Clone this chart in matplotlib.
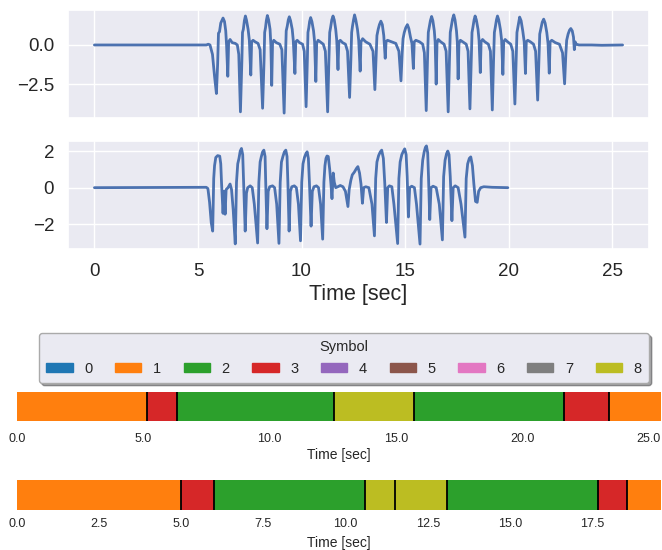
import matplotlib
matplotlib.use("Agg")
import matplotlib.pyplot as plt
import matplotlib.patches as mpatches
import numpy as np
import seaborn as sns

# signal 1 vertices (time [sec], value)
sig1_t = [0.00, 5.40, 5.50, 5.58, 5.70, 5.80,
          5.89, 5.95, 5.99, 6.04, 6.10, 6.21, 6.28, 6.34, 6.38, 6.44, 6.48, 6.55, 6.65, 6.80, 6.90, 6.97,
          7.05, 7.12, 7.15, 7.19, 7.24, 7.29, 7.34, 7.42, 7.48, 7.55, 7.59, 7.66, 7.76, 7.90, 8.00,
          8.12, 8.19, 8.22, 8.26, 8.30, 8.35, 8.41, 8.48, 8.52, 8.56, 8.60, 8.66, 8.78, 8.95, 9.05,
          9.16, 9.22, 9.26, 9.31, 9.36, 9.41, 9.47, 9.55, 9.60, 9.68, 9.72, 9.79, 9.90, 10.05, 10.13,
          10.22, 10.28, 10.31, 10.35, 10.39, 10.44, 10.50, 10.58, 10.63, 10.69, 10.73, 10.80, 10.90, 11.05, 11.15,
          11.26, 11.32, 11.36, 11.40, 11.46, 11.52, 11.58, 11.65, 11.70, 11.76, 11.80, 11.87, 11.98, 12.12, 12.22,
          12.32, 12.38, 12.42, 12.46, 12.51, 12.56, 12.62, 12.70, 12.76, 12.83, 12.87, 12.95, 13.10, 13.30, 13.45,
          13.54, 13.60, 13.64, 13.70, 13.76, 13.83, 13.90, 13.97, 14.04, 14.08, 14.15, 14.35, 14.55, 14.70,
          14.80, 14.86, 14.90, 14.96, 15.03, 15.11, 15.18, 15.26, 15.33, 15.40, 15.44, 15.52, 15.70, 15.85, 15.93,
          16.02, 16.08, 16.12, 16.16, 16.22, 16.28, 16.34, 16.41, 16.45, 16.50, 16.54, 16.60, 16.72, 16.88, 16.98,
          17.08, 17.14, 17.18, 17.23, 17.29, 17.35, 17.41, 17.48, 17.52, 17.56, 17.60, 17.67, 17.78, 17.95, 18.04,
          18.13, 18.19, 18.23, 18.27, 18.33, 18.38, 18.44, 18.52, 18.57, 18.63, 18.67, 18.74, 18.85, 19.02, 19.12,
          19.21, 19.27, 19.31, 19.35, 19.41, 19.46, 19.52, 19.60, 19.66, 19.72, 19.76, 19.83, 19.95, 20.10, 20.20,
          20.30, 20.36, 20.40, 20.44, 20.49, 20.53, 20.60, 20.68, 20.75, 20.81, 20.85, 20.92, 21.05, 21.20, 21.30,
          21.40, 21.46, 21.50, 21.55, 21.62, 21.69, 21.76, 21.84, 21.90, 21.96, 22.00, 22.08, 22.25, 22.45, 22.60,
          22.70, 22.76, 22.80, 22.87, 22.94, 23.00, 23.07, 23.13, 23.17, 23.21, 23.26, 23.40, 24.00, 24.50, 25.50]
sig1_v = [0.00, 0.00, 0.05, 0.00, -0.60, -2.00,
          -3.10, -1.20, 0.75, 0.85, 1.40, 1.72, 1.50, 0.90, 0.00, -2.00, 0.20, 0.35, 0.15, 0.10, 0.00, -0.60,
          -4.27, -1.00, 0.80, 1.00, 1.55, 1.85, 1.60, 1.00, 0.30, -1.92, 0.20, 0.30, 0.20, 0.10, -0.30,
          -4.04, -1.00, 0.80, 1.10, 1.55, 1.88, 1.60, 1.00, 0.00, -2.58, 0.10, 0.30, 0.15, 0.05, -0.30,
          -4.35, -1.00, 0.90, 1.20, 1.60, 1.80, 1.55, 1.00, 0.30, -1.82, 0.20, 0.30, 0.15, 0.05, -0.40,
          -3.94, -1.00, 0.80, 1.10, 1.50, 1.75, 1.50, 0.90, 0.20, -2.33, 0.10, 0.30, 0.20, 0.05, -0.40,
          -4.27, -1.00, 0.80, 1.10, 1.60, 1.85, 1.60, 1.00, 0.30, -1.57, 0.20, 0.30, 0.15, 0.05, -0.40,
          -3.35, -1.00, 0.80, 1.20, 1.60, 1.92, 1.60, 1.00, 0.30, -1.67, 0.20, 0.40, 0.20, 0.05, -0.40,
          -2.85, -0.80, 0.60, 1.00, 1.30, 1.52, 1.30, 0.60, -0.85, 0.20, 0.30, 0.20, 0.10, -0.40,
          -2.29, -0.50, 0.40, 0.80, 1.10, 1.30, 1.05, 0.50, 0.10, -1.50, 0.20, 0.30, 0.20, 0.05, -0.50,
          -4.19, -1.00, 0.80, 1.10, 1.55, 1.82, 1.55, 0.90, 0.20, -2.50, 0.10, 0.35, 0.20, 0.05, -0.40,
          -4.27, -1.00, 0.80, 1.20, 1.65, 1.92, 1.60, 0.90, 0.20, -2.17, 0.10, 0.30, 0.20, 0.05, -0.40,
          -4.08, -1.00, 0.80, 1.10, 1.60, 1.85, 1.60, 1.00, 0.30, -1.76, 0.20, 0.35, 0.20, 0.05, -0.40,
          -4.15, -1.00, 0.80, 1.10, 1.60, 1.85, 1.60, 1.00, 0.30, -1.88, 0.20, 0.35, 0.20, 0.05, -0.40,
          -3.77, -1.00, 0.80, 1.10, 1.50, 1.78, 1.55, 0.90, 0.20, -1.82, 0.20, 0.30, 0.20, 0.05, -0.40,
          -3.52, -1.00, 0.70, 1.00, 1.45, 1.65, 1.40, 0.80, 0.10, -1.80, 0.20, 0.30, 0.15, 0.05, -0.50,
          -2.48, -0.60, 0.30, 0.70, 0.95, 1.05, 0.90, 0.50, -0.30, 0.20, 0.05, 0.00, 0.00, -0.02, 0.00]

# signal 2 vertices
sig2_t = [0.00, 5.40, 5.48, 5.56, 5.64,
          5.71, 5.76, 5.80, 5.86, 5.95, 6.05, 6.10, 6.14, 6.21, 6.26, 6.31, 6.36, 6.45, 6.55, 6.62, 6.70,
          6.80, 6.86, 6.92, 6.98, 7.04, 7.10, 7.16, 7.20, 7.28, 7.34, 7.40, 7.52, 7.62, 7.72,
          7.88, 7.94, 8.00, 8.06, 8.12, 8.18, 8.24, 8.27, 8.33, 8.39, 8.46, 8.60, 8.70, 8.80,
          8.91, 8.97, 9.03, 9.10, 9.17, 9.24, 9.30, 9.34, 9.40, 9.46, 9.53, 9.65, 9.75, 9.85,
          9.95, 10.01, 10.07, 10.14, 10.21, 10.27, 10.33, 10.38, 10.46, 10.52, 10.60, 10.72, 10.82, 10.92,
          11.02, 11.08, 11.13, 11.18, 11.23, 11.29, 11.36, 11.42, 11.47, 11.53, 11.58, 11.65, 11.75, 11.87,
          12.00, 12.12, 12.24, 12.30, 12.38, 12.45, 12.55, 12.65, 12.72, 12.80, 12.87, 12.94, 13.00, 13.10,
          13.25, 13.40,
          13.52, 13.58, 13.64, 13.72, 13.80, 13.87, 13.95, 14.02, 14.10, 14.16, 14.24, 14.36, 14.46,
          14.64, 14.70, 14.76, 14.84, 14.92, 14.98, 15.05, 15.10, 15.16, 15.22, 15.32, 15.45, 15.55,
          15.72, 15.78, 15.85, 15.92, 15.98, 16.03, 16.09, 16.13, 16.19, 16.25, 16.35, 16.50, 16.65,
          16.80, 16.86, 16.93, 17.00, 17.06, 17.12, 17.18, 17.26, 17.32, 17.42, 17.56, 17.70,
          17.89, 17.95, 18.02, 18.10, 18.17, 18.25, 18.32, 18.40, 18.48, 18.55, 18.65, 18.80, 19.20, 19.96]
sig2_v = [0.00, 0.02, -0.05, -0.80, -1.90,
          -2.37, 0.50, 1.20, 1.65, 1.75, 1.72, 1.30, 0.20, -1.40, -0.20, -1.45, -0.10, 0.00, 0.20, -0.10, -1.20,
          -3.07, 0.30, 1.30, 1.60, 2.00, 2.14, 1.80, 0.40, -2.37, -0.30, 0.00, 0.10, 0.00, -0.90,
          -3.02, 0.30, 1.40, 1.70, 1.95, 2.05, 1.70, 0.30, -2.24, -0.20, 0.05, 0.10, 0.00, -0.90,
          -3.04, 0.30, 1.40, 1.70, 1.95, 2.05, 1.70, 0.30, -2.37, -0.20, 0.05, 0.10, 0.00, -0.90,
          -2.90, 0.30, 1.30, 1.65, 1.85, 1.96, 1.60, 0.30, -2.10, -0.20, 0.05, 0.10, 0.00, -0.90,
          -2.81, 0.30, 1.20, 1.60, 1.73, 1.70, 1.00, 0.20, -0.60, 0.80, 0.30, 0.00, 0.05, 0.12,
          0.05, -0.20, -1.03, -0.10, 0.40, 0.70, 0.85, 1.05, 1.15, 0.80, 0.20, -0.85, 0.00, 0.05,
          0.00, -0.90,
          -2.63, 0.50, 1.40, 1.75, 1.95, 2.05, 1.60, 0.20, -1.90, 0.00, 0.10, 0.05, -0.90,
          -3.05, 0.50, 1.40, 1.80, 2.00, 2.12, 1.80, 0.60, -1.60, 0.00, 0.08, 0.00, -0.90,
          -3.08, 0.50, 1.50, 1.95, 2.20, 2.28, 1.90, 0.60, -1.74, 0.00, 0.08, 0.00, -0.90,
          -2.85, 0.60, 1.50, 1.85, 2.00, 1.80, 0.60, -1.80, 0.00, 0.10, 0.00, -0.90,
          -2.70, 0.50, 1.30, 1.60, 1.68, 1.20, 0.20, -0.75, -0.80, -0.20, 0.00, 0.05, 0.02, 0.00]

# symbol segments for the two recordings
seg1_edges = [0.0, 5.16, 6.33, 12.56, 15.73, 21.67, 23.46, 25.5]
seg1_symbols = [1, 3, 2, 8, 2, 3, 1]
seg2_edges = [0.0, 5.0, 6.0, 10.6, 11.5, 13.1, 17.68, 18.56, 19.6]
seg2_symbols = [1, 3, 2, 8, 8, 2, 3, 1]
legend_symbols = [0, 1, 2, 3, 4, 5, 6, 7, 8]

sns.set_theme(style="darkgrid")
plt.rcParams["font.family"] = ["Liberation Sans", "DejaVu Sans"]

W, H = 662, 550
fig = plt.figure(figsize=(W / 100, H / 100), dpi=100)


def px_axes(x0, y0, x1, y1, **kw):
    return fig.add_axes([x0 / W, 1 - y1 / H, (x1 - x0) / W, (y1 - y0) / H], **kw)


def fmt1(x, pos=None):
    return f"{x:.1f}".replace("-", "\u2212")


line_color = "#4c72b0"
ax1 = px_axes(68, 10, 649, 118)
ax2 = px_axes(68, 141, 649, 249, sharex=ax1)
ax1.plot(sig1_t, sig1_v, color=line_color, lw=2)
ax2.plot(sig2_t, sig2_v, color=line_color, lw=2)
ax1.set_yticks([0.0, -2.5])
ax2.set_yticks([2, 0, -2])
ax1.yaxis.set_major_formatter(matplotlib.ticker.FuncFormatter(fmt1))
ax2.set_xticks([0, 5, 10, 15, 20, 25])
plt.setp(ax1.get_xticklabels(), visible=False)
for ax in (ax1, ax2):
    ax.tick_params(labelsize=13.5, pad=4)
ax2.set_xlabel("Time [sec]", fontsize=15.5, labelpad=3)

colors = plt.get_cmap("tab10").colors


def draw_bar(ax, edges, symbols, ticks, tick_pad, label_pad):
    edges = np.array(edges)
    ax.barh(0, np.diff(edges), left=edges[:-1], height=1,
            color=[colors[s] for s in symbols], edgecolor="none")
    ax.vlines(edges[1:-1], -0.5, 0.5, color="black", lw=1.3)
    ax.set_xlim(edges[0], edges[-1])
    ax.set_ylim(-0.5, 0.5)
    ax.set_facecolor("white")
    ax.grid(False)
    ax.set_yticks([])
    ax.set_xticks(ticks)
    ax.xaxis.set_major_formatter(matplotlib.ticker.FuncFormatter(fmt1))
    ax.tick_params(axis="x", length=0, labelsize=9, pad=tick_pad)
    for sp in ax.spines.values():
        sp.set_visible(False)
    ax.set_xlabel("Time [sec]", fontsize=10, labelpad=label_pad)


axb1 = px_axes(17, 392, 661, 421)
draw_bar(axb1, seg1_edges, seg1_symbols, [0, 5, 10, 15, 20, 25], 9, 2)
axb2 = px_axes(17, 480, 661, 510)
draw_bar(axb2, seg2_edges, seg2_symbols,
         [0, 2.5, 5, 7.5, 10, 12.5, 15, 17.5], 6, 4)

handles = [mpatches.Patch(color=colors[s], label=str(s)) for s in legend_symbols]
leg = fig.legend(handles=handles, title="Symbol", ncol=9, loc="upper center",
                 bbox_to_anchor=(344 / W, 1 - 333 / H), fontsize=10.5,
                 title_fontsize=10.5, frameon=True, fancybox=True, shadow=True,
                 columnspacing=1.55, handlelength=1.8, handleheight=0.6,
                 handletextpad=0.8, borderpad=0.5, borderaxespad=0)
leg.get_frame().set_facecolor("#eaeaf2")
leg.get_frame().set_edgecolor("#aaaaaa")

fig.savefig("out.png", dpi=100)
